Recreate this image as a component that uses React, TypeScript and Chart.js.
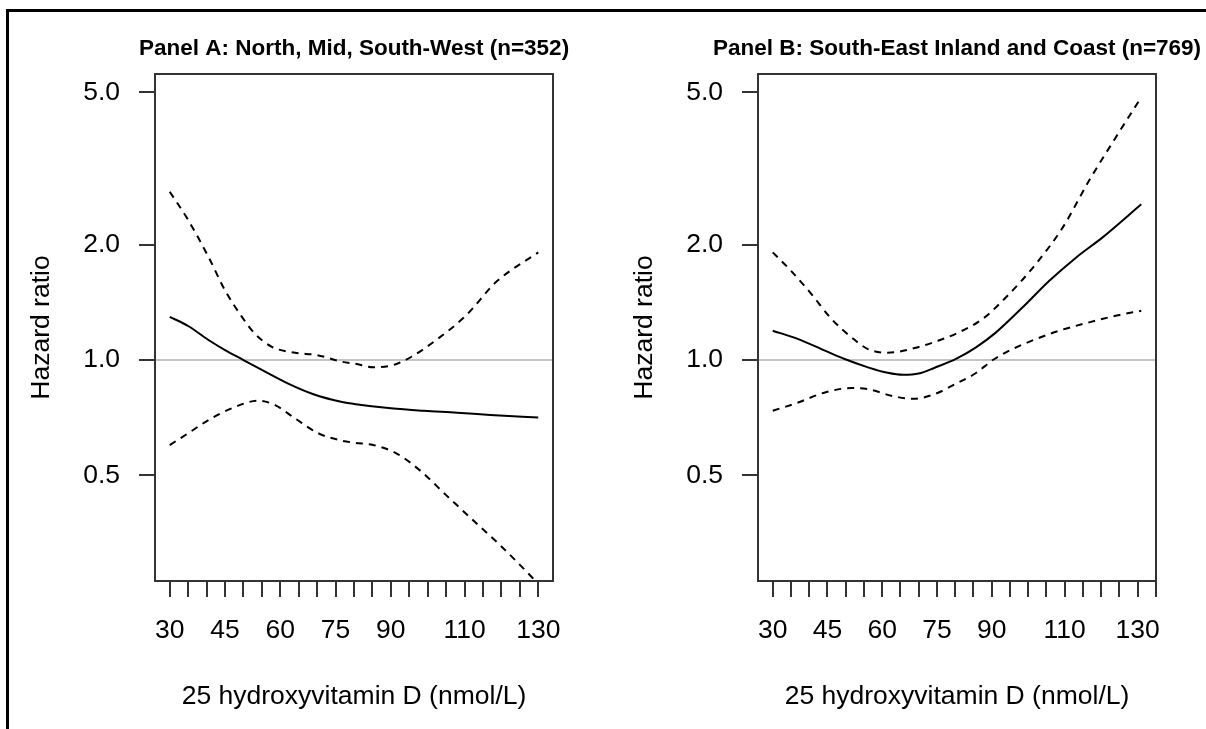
import React, { useEffect, useRef } from 'react';
import { Chart, registerables } from 'chart.js';

Chart.register(...registerables);

// ---- text ----
const PANEL_TITLES = ['Panel A: North, Mid, South-West (n=352)', 'Panel B: South-East Inland and Coast (n=769)'];
const X_TITLE = '25 hydroxyvitamin D (nmol/L)';
const Y_TITLE = 'Hazard ratio';

// ---- ticks ----
const Y_TICKS = [0.5, 1, 2, 5];
const X_TICKS_A = [30, 35, 40, 45, 50, 55, 60, 65, 70, 75, 80, 85, 90, 95, 100, 105, 110, 115, 120, 125, 130];
const X_TICKS_B = [30, 35, 40, 45, 50, 55, 60, 65, 70, 75, 80, 85, 90, 95, 100, 105, 110, 115, 120, 125, 130, 135];
const X_LABELS = [30, 45, 60, 75, 90, 110, 130];
const REF_VALUE = 1;

// ---- axis limits ----
const Y_MIN = 0.265;
const Y_MAX = 5.58;
const X_RANGE_A = [26, 134];
const X_RANGE_B = [25.96, 135.04];

// ---- Panel A ----
const A_HR_X = [30, 35, 40.5, 45, 50, 55, 62, 69, 76.5, 80, 90, 99, 108, 117, 130];
const A_HR = [1.297, 1.227, 1.128, 1.062, 1.0, 0.942, 0.869, 0.814, 0.778, 0.768, 0.748, 0.737, 0.729, 0.719, 0.708];
const A_UP_X = [30, 35, 40.5, 45, 49.5, 53, 57.7, 64, 70, 76.7, 80.3, 85.2, 90.6, 95.6, 102.3, 110.5, 118.6, 130];
const A_UP = [2.75, 2.32, 1.86, 1.52, 1.3, 1.174, 1.083, 1.045, 1.03, 0.99, 0.978, 0.957, 0.97, 1.02, 1.128, 1.31, 1.6, 1.91];
const A_LO_X = [30, 35, 40.5, 46.8, 54, 58.6, 64, 70.3, 76.7, 80.3, 85.2, 91.5, 97.8, 105, 112.3, 119.6, 128.6, 130];
const A_LO = [0.6, 0.644, 0.697, 0.748, 0.783, 0.763, 0.704, 0.644, 0.616, 0.608, 0.6, 0.571, 0.516, 0.444, 0.382, 0.329, 0.269, 0.26];

// ---- Panel B ----
const B_HR_X = [30, 37, 44.3, 49.7, 56.1, 61.5, 65.7, 70, 74.4, 80.5, 85.7, 91.2, 98.5, 105.8, 113.1, 120.4, 131];
const B_HR = [1.193, 1.134, 1.058, 1.006, 0.957, 0.926, 0.915, 0.922, 0.955, 1.01, 1.079, 1.181, 1.373, 1.61, 1.85, 2.09, 2.55];
const B_UP_X = [30, 35, 40.6, 46.1, 51.6, 56.1, 61.5, 68.9, 75.3, 80.5, 87.5, 94.8, 102.1, 109.5, 116.7, 124, 131];
const B_UP = [1.91, 1.71, 1.487, 1.28, 1.146, 1.068, 1.045, 1.075, 1.123, 1.175, 1.28, 1.487, 1.781, 2.22, 2.94, 3.81, 4.85];
const B_LO_X = [30, 37, 44.3, 51.6, 56.1, 62.5, 68.5, 74.4, 80.5, 85.7, 90.3, 94.8, 102.1, 108.5, 116.7, 124, 131];
const B_LO = [0.737, 0.775, 0.823, 0.845, 0.84, 0.807, 0.792, 0.815, 0.87, 0.925, 1.0, 1.058, 1.134, 1.193, 1.254, 1.305, 1.345];

const FONT = "'Liberation Sans', Arial, Helvetica, sans-serif";
const INK = '#000000';
const FRAME = '#333333';

const pts = (xs: number[], ys: number[]) => xs.map((x, i) => ({ x, y: ys[i] }));

const panelPlugin = {
  id: 'panelDecor',
  afterDatasetsDraw(chart: any) {
    const { ctx, chartArea } = chart;
    ctx.save();
    ctx.strokeStyle = FRAME;
    ctx.lineWidth = 2;
    ctx.strokeRect(chartArea.left, chartArea.top, chartArea.right - chartArea.left, chartArea.bottom - chartArea.top);
    ctx.restore();
  },
  afterDraw(chart: any) {
    const opts = chart.options.plugins.panelDecor || {};
    const { ctx, chartArea } = chart;
    ctx.save();
    ctx.fillStyle = INK;
    ctx.font = `bold 22.5px ${FONT}`;
    ctx.textAlign = 'center';
    ctx.textBaseline = 'alphabetic';
    ctx.fillText(opts.text || '', (chartArea.left + chartArea.right) / 2, 55);
    ctx.restore();
  },
};

interface PanelProps {
  title: string;
  xRange: number[];
  xTicks: number[];
  hr: { x: number; y: number }[];
  up: { x: number; y: number }[];
  lo: { x: number; y: number }[];
  left: number;
}

function Panel({ title, xRange, xTicks, hr, up, lo, left }: PanelProps) {
  const ref = useRef<HTMLCanvasElement | null>(null);
  useEffect(() => {
    if (!ref.current) return;
    const axisFont = { family: FONT, size: 26.5, lineHeight: 1 };
    const grid = { drawOnChartArea: false, drawTicks: true, tickLength: 16, lineWidth: 2, color: FRAME };
    const lineBase = {
      borderColor: '#000',
      borderWidth: 2,
      pointRadius: 0,
      fill: false,
      cubicInterpolationMode: 'monotone' as const,
    };
    const chart = new Chart(ref.current, {
      type: 'line',
      data: {
        datasets: [
          { ...lineBase, data: hr, order: 1 },
          { ...lineBase, data: up, borderDash: [7, 6], order: 2 },
          { ...lineBase, data: lo, borderDash: [7, 6], order: 3 },
          {
            data: [
              { x: xRange[0], y: REF_VALUE },
              { x: xRange[1], y: REF_VALUE },
            ],
            borderColor: '#c4c4c4',
            borderWidth: 2,
            pointRadius: 0,
            fill: false,
            order: 10,
          },
        ],
      },
      options: {
        responsive: false,
        animation: false,
        events: [],
        layout: { padding: { left: 0, right: 50, top: 74, bottom: 0 } },
        plugins: {
          legend: { display: false },
          tooltip: { enabled: false },
          title: { display: false },
          panelDecor: { text: title },
        } as any,
        scales: {
          x: {
            type: 'linear',
            min: xRange[0],
            max: xRange[1],
            bounds: 'data',
            afterBuildTicks: (s: any) => {
              s.ticks = xTicks.map((v) => ({ value: v }));
            },
            afterFit: (s: any) => {
              s.height = 148;
            },
            grid,
            border: { display: false },
            ticks: {
              autoSkip: false,
              maxRotation: 0,
              minRotation: 0,
              padding: 20,
              color: INK,
              font: axisFont,
              callback: (v: any) => (X_LABELS.includes(Number(v)) ? String(v) : ''),
            },
            title: {
              display: true,
              text: X_TITLE,
              color: INK,
              font: axisFont,
              padding: { top: 0, bottom: 19 },
            },
          },
          y: {
            type: 'logarithmic',
            min: Y_MIN,
            max: Y_MAX,
            bounds: 'data',
            afterBuildTicks: (s: any) => {
              s.ticks = Y_TICKS.map((v) => ({ value: v }));
            },
            afterFit: (s: any) => {
              s.width = 155;
            },
            grid,
            border: { display: false },
            ticks: {
              autoSkip: false,
              padding: 19,
              color: INK,
              font: axisFont,
              callback: (v: any) => Number(v).toFixed(1),
            },
            title: {
              display: true,
              text: Y_TITLE,
              color: INK,
              font: axisFont,
              padding: { top: 28, bottom: 0 },
            },
          },
        },
      } as any,
      plugins: [panelPlugin],
    });
    return () => chart.destroy();
  }, [title, xRange, xTicks, hr, up, lo]);

  return (
    <canvas
      ref={ref}
      width={603}
      height={729}
      style={{ position: 'absolute', left, top: 0, width: 603, height: 729 }}
    />
  );
}

const DATA_A = { hr: pts(A_HR_X, A_HR), up: pts(A_UP_X, A_UP), lo: pts(A_LO_X, A_LO) };
const DATA_B = { hr: pts(B_HR_X, B_HR), up: pts(B_UP_X, B_UP), lo: pts(B_LO_X, B_LO) };

export default function App() {
  return (
    <div
      style={{
        position: 'fixed',
        left: 0,
        top: 0,
        width: 1206,
        height: 729,
        overflow: 'hidden',
        background: '#ffffff',
      }}
    >
      <div
        style={{
          position: 'absolute',
          left: 6,
          top: 9,
          width: 1400,
          height: 900,
          borderLeft: '3px solid #000',
          borderTop: '3px solid #000',
          boxSizing: 'border-box',
        }}
      />
      <Panel title={PANEL_TITLES[0]} xRange={X_RANGE_A} xTicks={X_TICKS_A} left={0} {...DATA_A} />
      <Panel title={PANEL_TITLES[1]} xRange={X_RANGE_B} xTicks={X_TICKS_B} left={603} {...DATA_B} />
    </div>
  );
}
